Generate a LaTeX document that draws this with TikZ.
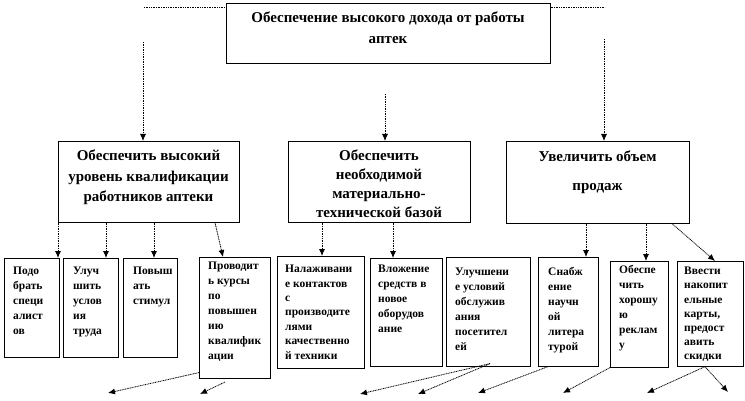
\documentclass[tikz,border=0pt]{standalone}
\usepackage{fontspec}
\setmainfont{Liberation Serif}
\usetikzlibrary{arrows.meta}
\tikzset{
  goal/.style={draw, line width=.6pt, inner sep=0pt, anchor=north west},
  goaltxt/.style={font=\bfseries\fontsize{15}{20.5}\selectfont, align=center, inner sep=0pt, anchor=north},
  task/.style={draw, line width=.6pt, inner sep=0pt, anchor=north west},
  tasktxt/.style={font=\bfseries\fontsize{11.5}{15}\selectfont, align=left, inner sep=0pt, anchor=north west},
  link/.style={dash pattern=on 1pt off .7pt, line width=.8pt},
  arr/.style={link, -{Latex[length=7pt,width=6pt]}}
}
\begin{document}
\begin{tikzpicture}[x=1pt,y=-1pt]
\useasboundingbox (0,0) rectangle (745,401);
% main goal
\node[goal, minimum width=324, minimum height=60] (top) at (226,3) {};
\node[goaltxt] (toptxt) at (388,12) {Обеспечение высокого дохода от работы\\аптек};
% second level
\node[goal, minimum width=181, minimum height=81] (qual) at (58,141) {};
\node[goaltxt] (qualtxt) at (148.5,150) {Обеспечить высокий\\уровень квалификации\\работников аптеки};
\node[goal, minimum width=182, minimum height=81] (base) at (288,141) {};
\node[goaltxt, font=\bfseries\fontsize{15}{19}\selectfont] (basetxt) at (379,150) {Обеспечить\\необходимой\\материально-\\технической базой};
\node[goal, minimum width=183, minimum height=82] (sales) at (506,141) {};
\node[goaltxt] (salestxt) at (597.5,151) {Увеличить объем\\[8pt]продаж};
% third level
\node[task, minimum width=55, minimum height=99] (pick) at (4,258) {};
\node[tasktxt] (picktxt) at ([shift={(9,9)}]pick.north west) {Подо\\брать\\специ\\алист\\ов};
\node[task, minimum width=55, minimum height=99] (cond) at (63,258) {};
\node[tasktxt] (condtxt) at ([shift={(10,9)}]cond.north west) {Улуч\\шить\\услов\\ия\\труда};
\node[task, minimum width=54, minimum height=99] (stim) at (123,258) {};
\node[tasktxt] (stimtxt) at ([shift={(10,9)}]stim.north west) {Повыш\\ать\\стимул};
\node[task, minimum width=71, minimum height=121] (course) at (199,257) {};
\node[tasktxt] (coursetxt) at ([shift={(9,5)}]course.north west) {Проводит\\ь курсы\\по\\повышен\\ию\\квалифик\\ации};
\node[task, minimum width=87, minimum height=112] (contact) at (277,256) {};
\node[tasktxt, font=\bfseries\fontsize{11.5}{14.4}\selectfont] (contacttxt) at ([shift={(8,9)}]contact.north west) {Налаживани\\е контактов\\с\\производите\\лями\\качественно\\й техники};
\node[task, minimum width=72, minimum height=108] (equip) at (370,258) {};
\node[tasktxt] (equiptxt) at ([shift={(8,7)}]equip.north west) {Вложение\\средств в\\новое\\оборудов\\ание};
\node[task, minimum width=84, minimum height=109] (serv) at (446,257) {};
\node[tasktxt] (servtxt) at ([shift={(9,11)}]serv.north west) {Улучшени\\е условий\\обслужив\\ания\\посетител\\ей};
\node[task, minimum width=60, minimum height=109] (lit) at (538,257) {};
\node[tasktxt] (littxt) at ([shift={(10,10)}]lit.north west) {Снабж\\ение\\научн\\ой\\литера\\турой};
\node[task, minimum width=58, minimum height=106] (ad) at (610,261) {};
\node[tasktxt] (adtxt) at ([shift={(9,4)}]ad.north west) {Обеспе\\чить\\хорошу\\ю\\реклам\\у};
\node[task, minimum width=66, minimum height=105] (disc) at (677,261) {};
\node[tasktxt, font=\bfseries\fontsize{11.5}{14.2}\selectfont] (disctxt) at ([shift={(7,6)}]disc.north west) {Ввести\\накопит\\ельные\\карты,\\предост\\авить\\скидки};
% connectors from the main goal
\coordinate (hl) at (144,7);
\coordinate (hr) at (605,7);
\draw[link] (hl) -- (hl -| top.west);
\draw[link] (top.east |- hr) -- (hr);
\coordinate (s1) at (143,42);
\coordinate (s2) at (385,94);
\coordinate (s3) at (604,39);
\draw[arr] (s1) -- (s1 |- qual.north);
\draw[arr] (s2) -- (s2 |- base.north);
\draw[arr] (s3) -- (s3 |- sales.north);
% connectors to the tasks
\draw[arr] (qual.south west) -- ([xshift=54]pick.north west);
\draw[arr] ([xshift=48]qual.south west) -- ([xshift=43]cond.north west);
\draw[arr] ([xshift=96]qual.south west) -- ([xshift=31]stim.north west);
\draw[arr] ([xshift=157]qual.south west) -- ([xshift=24]course.north west);
\draw[arr] ([xshift=34]base.south west) -- ([xshift=45]contact.north west);
\draw[arr] ([xshift=105]base.south west) -- ([xshift=23]equip.north west);
\draw[arr] ([xshift=80]sales.south west) -- ([xshift=48]lit.north west);
\draw[arr] ([xshift=140]sales.south west) -- ([xshift=36]ad.north west);
\draw[arr] ([xshift=166]sales.south west) -- ([xshift=38]disc.north west);
% loose arrows under the tasks
\coordinate (e1) at (108,393);
\coordinate (f1) at (225,382);
\coordinate (f2) at (200,394);
\coordinate (e2) at (360,394);
\coordinate (e3) at (418,394);
\coordinate (e4) at (478,393);
\coordinate (e5) at (563,393);
\coordinate (e6) at (647,393);
\coordinate (e7) at (728,392);
\draw[arr] ([yshift=6]course.south west) -- (e1);
\draw[arr] (f1) -- (f2);
\draw[arr] ([shift={(44,-3)}]serv.south west) -- (e2);
\draw[arr] ([shift={(44,-3)}]serv.south west) -- (e3);
\draw[arr] ([xshift=10]lit.south west) -- (e4);
\draw[arr] (ad.south west) -- (e5);
\draw[arr] ([xshift=28]disc.south west) -- (e6);
\draw[arr] ([xshift=28]disc.south west) -- (e7);
\end{tikzpicture}
\end{document}
